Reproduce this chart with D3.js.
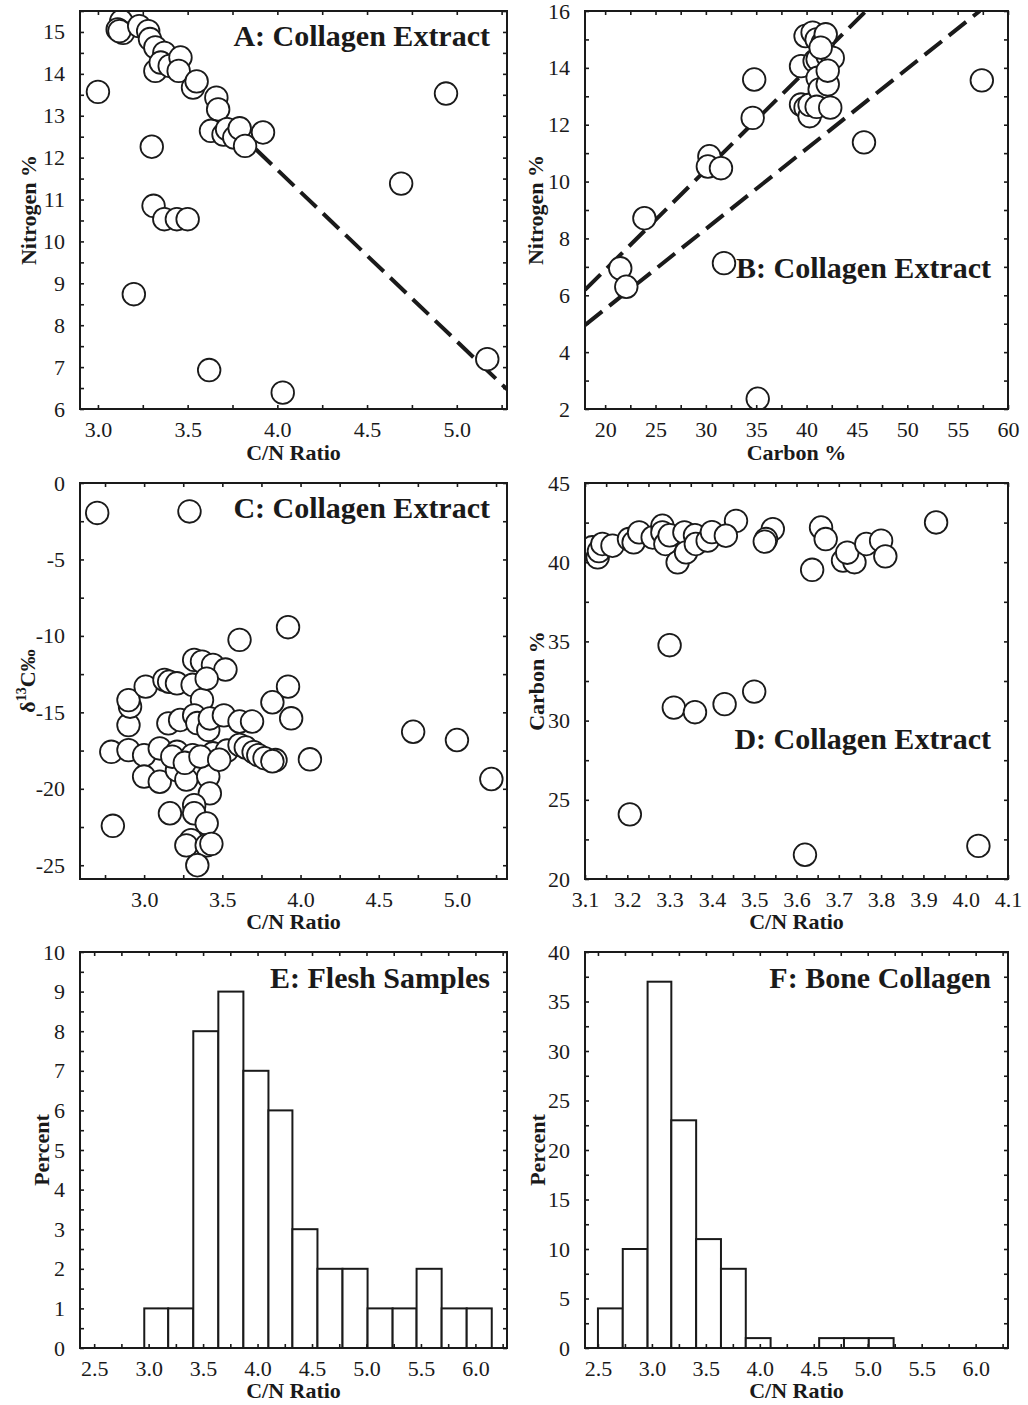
<!DOCTYPE html>
<html>
<head>
<meta charset="utf-8">
<script src="https://cdnjs.cloudflare.com/ajax/libs/d3/7.8.5/d3.min.js"></script>
<style>
    body { margin: 0; background: #fff; }
    svg text { font-family: 'Liberation Serif', 'Times New Roman', serif; fill: #1a1a1a; }
    .tick-label { font-size: 22px; }
    .axis-label { font-size: 22px; font-weight: bold; }
    .panel-title { font-size: 30px; font-weight: bold; }
</style>
</head>
<body>
<div id="chart"></div>
<script>
// Panel A: C/N ratio vs nitrogen %
const aRatio    = [3.00, 3.13, 3.11, 3.14, 3.12, 3.23, 3.28, 3.29, 3.32, 3.37, 3.32, 3.35, 3.40, 3.46, 3.45,
                   3.53, 3.55, 3.66, 3.67, 3.63, 3.70, 3.72, 3.76, 3.79, 3.82, 3.92, 3.30, 3.31, 3.37, 3.44,
                   3.50, 3.20, 3.62, 4.03, 4.69, 4.94, 5.17];
const aNitrogen = [13.57, 15.26, 15.06, 14.98, 15.02, 15.14, 15.02, 14.83, 14.63, 14.50, 14.07, 14.27, 14.19, 14.39, 14.07,
                   13.67, 13.82, 13.43, 13.15, 12.64, 12.55, 12.68, 12.48, 12.70, 12.28, 12.60, 12.26, 10.85, 10.53, 10.53,
                   10.53, 8.74, 6.93, 6.39, 11.38, 13.53, 7.19];
const aFitLine  = [[3.88, 12.2], [5.28, 6.47]];

// Panel B: carbon % vs nitrogen %
const bCarbon   = [21.5, 22.1, 23.9, 30.35, 30.2, 31.5, 31.8, 34.65, 34.8, 35.15, 45.7, 57.4,
                   39.45, 39.9, 40.3, 40.3, 39.45, 39.9, 40.6, 41.0, 41.6, 41.9, 40.8, 41.1, 42.1, 42.6,
                   41.1, 41.3, 42.1, 41.0, 42.35, 41.4, 42.1];
const bNitrogen = [6.95, 6.30, 8.71, 10.89, 10.53, 10.47, 7.13, 12.24, 13.59, 2.36, 11.38, 13.56,
                   12.71, 12.6, 12.3, 12.7, 14.06, 15.12, 15.24, 15.0, 14.88, 15.18, 14.24, 14.3, 14.41, 14.35,
                   13.65, 13.24, 13.42, 12.63, 12.6, 14.71, 13.9];
const bUpperLine = [[18, 6.19], [45.9, 16]];
const bLowerLine = [[18, 4.95], [57.2, 16]];

// Panel C: C/N ratio vs d13C
const cRatio = [2.70, 3.29, 3.92, 3.61, 4.72, 5.00, 5.22, 4.06, 3.92, 3.94, 3.82, 2.80, 2.79,
                2.90, 2.90, 2.91, 2.90, 3.01, 3.00, 3.00, 3.10, 3.10, 3.13, 3.16, 3.21, 3.31, 3.32, 3.37,
                3.44, 3.52, 3.37, 3.40, 3.155, 3.23, 3.32, 3.34, 3.41, 3.42, 3.51, 3.61, 3.69, 3.21, 3.31,
                3.44, 3.53, 3.61, 3.65, 3.70, 3.73, 3.77, 3.84, 3.82, 3.21, 3.27, 3.41, 3.42, 3.165, 3.32,
                3.32, 3.40, 3.30, 3.27, 3.40, 3.43, 3.34, 3.18, 3.26, 3.36, 3.48];
const cDelta = [-1.96, -1.86, -9.43, -10.26, -16.27, -16.81, -19.36, -18.07, -13.32, -15.39, -14.34, -22.42, -17.58,
                -17.47, -15.83, -14.63, -14.2, -13.32, -17.8, -19.2, -19.54, -17.36, -12.88, -13.0, -13.1, -13.2, -11.57, -11.68,
                -11.9, -12.2, -14.19, -12.8, -15.72, -15.5, -15.2, -15.7, -16.15, -15.4, -15.2, -15.6, -15.6, -17.58, -17.8,
                -17.68, -17.5, -17.13, -17.3, -17.6, -17.8, -18.0, -18.12, -18.2, -18.78, -19.4, -19.2, -20.3, -21.6, -21.07,
                -21.6, -22.26, -23.36, -23.7, -23.7, -23.6, -25.0, -17.9, -18.3, -17.9, -18.1];

// Panel D: C/N ratio vs carbon %
const dRatio  = [3.30, 3.31, 3.36, 3.43, 3.50, 3.206, 3.62, 4.03, 3.93, 3.457, 3.637, 3.658, 3.669, 3.71, 3.737,
                 3.72, 3.765, 3.80, 3.81, 3.544, 3.528, 3.525, 3.117, 3.13, 3.133, 3.141, 3.165, 3.204, 3.215, 3.228,
                 3.26, 3.283, 3.283, 3.29, 3.30, 3.319, 3.335, 3.339, 3.36, 3.362, 3.39, 3.40, 3.433];
const dCarbon = [34.76, 30.82, 30.53, 31.04, 31.83, 24.08, 21.53, 22.09, 42.51, 42.61, 39.52, 42.19, 41.46, 40.1, 40.0,
                 40.6, 41.15, 41.36, 40.37, 42.09, 41.46, 41.3, 40.94, 40.31, 40.7, 41.15, 41.04, 41.46, 41.25, 41.88,
                 41.56, 42.3, 41.88, 41.15, 41.7, 39.99, 41.88, 40.62, 41.7, 41.15, 41.36, 41.9, 41.67];

// Panels E and F: histograms of C/N ratio (percent of samples per bin)
const binEdges   = [2.50, 2.73, 2.96, 3.18, 3.41, 3.64, 3.87, 4.10, 4.32, 4.55, 4.78, 5.01, 5.24, 5.46, 5.69, 5.92, 6.15];
const fleshPct   = [0, 0, 1, 1, 8, 9, 7, 6, 3, 2, 2, 1, 1, 2, 1, 1];
const bonePct    = [4, 10, 37, 23, 11, 8, 1, 0, 0, 1, 1, 1, 0, 0, 0, 0];

// tick values
const ratioTicks   = [3.0, 3.5, 4.0, 4.5, 5.0];
const histTicks    = [2.5, 3.0, 3.5, 4.0, 4.5, 5.0, 5.5, 6.0];
const aYTicks      = [6, 7, 8, 9, 10, 11, 12, 13, 14, 15];
const bXTicks      = [20, 25, 30, 35, 40, 45, 50, 55, 60];
const bYTicks      = [2, 4, 6, 8, 10, 12, 14, 16];
const cYTicks      = [-25, -20, -15, -10, -5, 0];
const dXTicks      = [3.1, 3.2, 3.3, 3.4, 3.5, 3.6, 3.7, 3.8, 3.9, 4.0, 4.1];
const dYTicks      = [20, 25, 30, 35, 40, 45];
const eYTicks      = [0, 1, 2, 3, 4, 5, 6, 7, 8, 9, 10];
const fYTicks      = [0, 5, 10, 15, 20, 25, 30, 35, 40];

const INK = '#1a1a1a';
const COLS = [[80, 507], [585, 1008]];
const ROWS = [[11, 409], [483, 879], [952, 1348]];

const svg = d3.select('#chart').append('svg')
    .attr('width', 1028)
    .attr('height', 1405);

const zip = (xs, ys) => xs.map((d, i) => [d, ys[i]]);

// half-step ticks between (and around) the major ticks, clipped to the domain
function withMinor(domain, majors) {
    let half = (majors[1] - majors[0]) / 2;
    let lo = Math.min(domain[0], domain[1]), hi = Math.max(domain[0], domain[1]);
    let out = [];
    for (let v = majors[0]; v >= lo - 1e-9; v -= half) out.push(+v.toFixed(4));
    for (let v = majors[0] + half; v <= hi + 1e-9; v += half) out.push(+v.toFixed(4));
    return out.sort((a, b) => a - b);
}

class Panel {
    constructor(cfg) {
        this.cfg = cfg;
        let [x0, x1] = COLS[cfg.col];
        let [y0, y1] = ROWS[cfg.row];
        this.width = x1 - x0;
        this.height = y1 - y0;
        this.g = svg.append('g').attr('transform', `translate(${x0},${y0})`);
        this.x = d3.scaleLinear().domain(cfg.xDomain).range([0, this.width]);
        this.y = d3.scaleLinear().domain(cfg.yDomain).range([this.height, 0]);

        let clipId = 'clip-' + cfg.id;
        this.g.append('clipPath').attr('id', clipId)
            .append('rect').attr('width', this.width).attr('height', this.height);
        this.plot = this.g.append('g').attr('clip-path', `url(#${clipId})`);
    }

    drawAxes() {
        let cfg = this.cfg;
        let xAll = withMinor(cfg.xDomain, cfg.xTicks);
        let yAll = withMinor(cfg.yDomain, cfg.yTicks);
        let isMajor = (ticks, d) => ticks.some(t => Math.abs(t - d) < 1e-6);

        let bottom = d3.axisBottom(this.x).tickValues(xAll).tickSize(-4).tickPadding(12)
            .tickFormat(d => isMajor(cfg.xTicks, d) ? cfg.xFormat(d) : '');
        let left = d3.axisLeft(this.y).tickValues(yAll).tickSize(-4).tickPadding(15)
            .tickFormat(d => isMajor(cfg.yTicks, d) ? cfg.yFormat(d) : '');
        let top = d3.axisTop(this.x).tickValues(xAll).tickSize(-4).tickFormat('');
        let right = d3.axisRight(this.y).tickValues(yAll).tickSize(-4).tickFormat('');

        let axes = [
            [bottom, `translate(0,${this.height})`],
            [left, 'translate(0,0)'],
            [top, 'translate(0,0)'],
            [right, `translate(${this.width},0)`]
        ];
        axes.forEach(([ax, tr]) => {
            let a = this.g.append('g').attr('transform', tr).call(ax)
                .attr('font-size', null).attr('font-family', null)
                .style('color', INK);
            a.select('.domain').remove();
            a.selectAll('line').attr('stroke-width', 1.6);
            a.selectAll('text').classed('tick-label', true);
        });

        this.g.append('rect')
            .attr('width', this.width)
            .attr('height', this.height)
            .attr('fill', 'none')
            .attr('stroke', INK)
            .attr('stroke-width', 2);

        // axis titles
        this.g.append('text')
            .classed('axis-label', true)
            .attr('text-anchor', 'middle')
            .attr('x', this.width / 2)
            .attr('y', this.height + cfg.xLabelDy)
            .text(cfg.xLabel);

        let yl = this.g.append('text')
            .classed('axis-label', true)
            .attr('text-anchor', 'middle')
            .attr('transform', `translate(${-cfg.yLabelDx}, ${this.height / 2}) rotate(-90)`);
        if (cfg.yLabelParts) {
            yl.append('tspan').text(cfg.yLabelParts[0]);
            yl.append('tspan').attr('dy', -9).style('font-size', '14px').text(cfg.yLabelParts[1]);
            yl.append('tspan').attr('dy', 9).text(cfg.yLabelParts[2]);
        } else {
            yl.text(cfg.yLabel);
        }

        this.g.append('text')
            .classed('panel-title', true)
            .attr('text-anchor', 'end')
            .attr('x', this.width - 17)
            .attr('y', cfg.titleDy)
            .text(cfg.title);
    }

    drawPoints(points) {
        this.plot.selectAll('circle.pt')
            .data(points)
            .enter().append('circle')
            .classed('pt', true)
            .attr('cx', d => this.x(d[0]))
            .attr('cy', d => this.y(d[1]))
            .attr('r', 11.3)
            .attr('fill', '#fff')
            .attr('stroke', INK)
            .attr('stroke-width', 1.8);
    }

    drawLines(lines) {
        let lineFn = d3.line().x(d => this.x(d[0])).y(d => this.y(d[1]));
        lines.forEach(l => {
            this.plot.append('path')
                .attr('d', lineFn(l))
                .attr('fill', 'none')
                .attr('stroke', INK)
                .attr('stroke-width', 4)
                .attr('stroke-dasharray', '22,9');
        });
    }

    drawBars(edges, values) {
        let bars = values.map((v, i) => ({ lo: edges[i], hi: edges[i + 1], v: v })).filter(d => d.v > 0);
        this.plot.selectAll('rect.bar')
            .data(bars)
            .enter().append('rect')
            .classed('bar', true)
            .attr('x', d => this.x(d.lo))
            .attr('width', d => this.x(d.hi) - this.x(d.lo))
            .attr('y', d => this.y(d.v))
            .attr('height', d => this.y(0) - this.y(d.v))
            .attr('fill', '#fff')
            .attr('stroke', INK)
            .attr('stroke-width', 2);
    }
}

const f1 = d3.format('.1f');
const fInt = d => String(d);

let pA = new Panel({ id: 'A', col: 0, row: 0, xDomain: [2.9, 5.28], yDomain: [6, 15.5],
    xTicks: ratioTicks, yTicks: aYTicks, xFormat: f1, yFormat: fInt,
    xLabel: 'C/N Ratio', yLabel: 'Nitrogen %', xLabelDy: 51, yLabelDx: 44,
    title: 'A: Collagen Extract', titleDy: 35 });
pA.drawLines([aFitLine]);
pA.drawPoints(zip(aRatio, aNitrogen));
pA.drawAxes();

let pB = new Panel({ id: 'B', col: 1, row: 0, xDomain: [18, 60], yDomain: [2, 16],
    xTicks: bXTicks, yTicks: bYTicks, xFormat: fInt, yFormat: fInt,
    xLabel: 'Carbon %', yLabel: 'Nitrogen %', xLabelDy: 51, yLabelDx: 42,
    title: 'B: Collagen Extract', titleDy: 267 });
pB.drawLines([bUpperLine, bLowerLine]);
pB.drawPoints(zip(bCarbon, bNitrogen));
pB.drawAxes();

let pC = new Panel({ id: 'C', col: 0, row: 1, xDomain: [2.59, 5.32], yDomain: [-25.9, 0],
    xTicks: ratioTicks, yTicks: cYTicks, xFormat: f1, yFormat: fInt,
    xLabel: 'C/N Ratio', yLabelParts: ['\u03b4', '13', 'C\u2030'], xLabelDy: 50, yLabelDx: 45,
    title: 'C: Collagen Extract', titleDy: 35 });
pC.drawPoints(zip(cRatio, cDelta));
pC.drawAxes();

let pD = new Panel({ id: 'D', col: 1, row: 1, xDomain: [3.1, 4.1], yDomain: [20, 45],
    xTicks: dXTicks, yTicks: dYTicks, xFormat: f1, yFormat: fInt,
    xLabel: 'C/N Ratio', yLabel: 'Carbon %', xLabelDy: 50, yLabelDx: 41,
    title: 'D: Collagen Extract', titleDy: 266 });
pD.drawPoints(zip(dRatio, dCarbon));
pD.drawAxes();

let pE = new Panel({ id: 'E', col: 0, row: 2, xDomain: [2.37, 6.29], yDomain: [0, 10],
    xTicks: histTicks, yTicks: eYTicks, xFormat: f1, yFormat: fInt,
    xLabel: 'C/N Ratio', yLabel: 'Percent', xLabelDy: 50, yLabelDx: 31,
    title: 'E: Flesh Samples', titleDy: 36 });
pE.drawBars(binEdges, fleshPct);
pE.drawAxes();

let pF = new Panel({ id: 'F', col: 1, row: 2, xDomain: [2.38, 6.3], yDomain: [0, 40],
    xTicks: histTicks, yTicks: fYTicks, xFormat: f1, yFormat: fInt,
    xLabel: 'C/N Ratio', yLabel: 'Percent', xLabelDy: 50, yLabelDx: 40,
    title: 'F: Bone Collagen', titleDy: 36 });
pF.drawBars(binEdges, bonePct);
pF.drawAxes();
</script>
</body>
</html>
